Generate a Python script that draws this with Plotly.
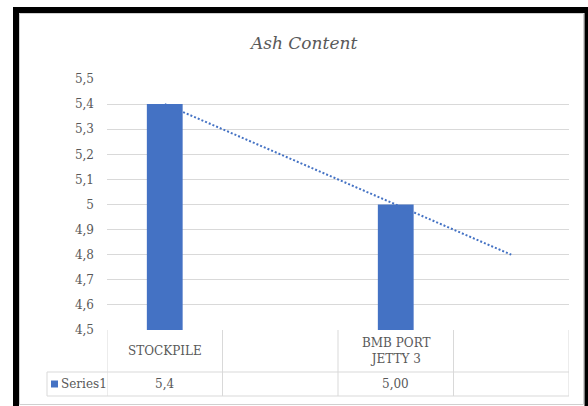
import numpy as np
import plotly.graph_objects as go

# ---- data ----
categories = ["STOCKPILE", "", "BMB PORT<br>JETTY 3", ""]
values = [5.4, None, 5.0, None]
table_values = ["5,4", "", "5,00", ""]
series_name = "Series1"
title_text = "Ash Content"
y_ticks = [4.5, 4.6, 4.7, 4.8, 4.9, 5.0, 5.1, 5.2, 5.3, 5.4, 5.5]
y_tick_labels = ["4,5", "4,6", "4,7", "4,8", "4,9", "5", "5,1", "5,2", "5,3", "5,4", "5,5"]

# ---- layout geometry (pixels) ----
W, H = 588, 406
L, R, T, B = 107, 569, 79, 330
pw, ph = R - L, B - T


def px_x(p):
    return (p - L) / pw


def px_y(p):
    return (B - p) / ph


BLUE = "#4472C4"
GRID = "#D9D9D9"
TXT = "#595959"
FONT = "DejaVu Serif"
FS = 12

idx = list(range(len(categories)))
xs = [i for i, v in zip(idx, values) if v is not None]
ys = [v for v in values if v is not None]
slope, icpt = np.polyfit(xs, ys, 1)
trend_x = [xs[0], idx[-1]]
trend_y = [slope * x + icpt for x in trend_x]

fig = go.Figure()
fig.add_trace(go.Bar(x=idx, y=values, width=0.31, marker_color=BLUE,
                     marker_line_width=0, name=series_name, showlegend=False))
fig.add_trace(go.Scatter(x=trend_x, y=trend_y, mode="lines",
                         line=dict(color=BLUE, width=2, dash="2px,2px"),
                         showlegend=False, hoverinfo="skip"))

shapes = []
ann = []

# table lines
row1_bot = px_y(372)
row2_bot = px_y(396)
col_edges = [i - 0.5 for i in idx] + [idx[-1] + 0.5]
shapes.append(dict(type="line", xref="paper", yref="paper", x0=px_x(47), x1=1, y0=row1_bot, y1=row1_bot,
                   line=dict(color=GRID, width=1)))
shapes.append(dict(type="line", xref="paper", yref="paper", x0=px_x(47), x1=1, y0=row2_bot, y1=row2_bot,
                   line=dict(color=GRID, width=1)))
for e in col_edges:
    shapes.append(dict(type="line", xref="x", yref="paper", x0=e, x1=e, y0=0, y1=row2_bot,
                       line=dict(color=GRID, width=1)))
shapes.append(dict(type="line", xref="paper", yref="paper", x0=px_x(47), x1=px_x(47), y0=row1_bot, y1=row2_bot,
                   line=dict(color=GRID, width=1)))
# legend key
shapes.append(dict(type="rect", xref="paper", yref="paper", x0=px_x(51), x1=px_x(58),
                   y0=px_y(387.5), y1=px_y(380.5), fillcolor=BLUE, line=dict(width=0)))

for i, c, v in zip(idx, categories, table_values):
    if c:
        ann.append(dict(x=i, xref="x", y=(0 + row1_bot) / 2, yref="paper", text=c, showarrow=False,
                        font=dict(family=FONT, size=FS, color=TXT), xanchor="center", yanchor="middle"))
    if v:
        ann.append(dict(x=i, xref="x", y=(row1_bot + row2_bot) / 2, yref="paper", text=v, showarrow=False,
                        font=dict(family=FONT, size=FS, color=TXT), xanchor="center", yanchor="middle"))
ann.append(dict(x=px_x(59), xref="paper", y=(row1_bot + row2_bot) / 2, yref="paper", text=series_name,
                showarrow=False, font=dict(family=FONT, size=FS, color=TXT), xanchor="left", yanchor="middle"))

# title
ann.append(dict(x=px_x(303), xref="paper", y=px_y(43), yref="paper", text="<i>" + title_text + "</i>",
                showarrow=False, font=dict(family=FONT, size=17, color=TXT), xanchor="center", yanchor="middle"))

# frame: gray inner + black outer
shapes.append(dict(type="rect", xref="paper", yref="paper", x0=px_x(19.5), x1=px_x(583.5),
                   y0=px_y(404.5), y1=px_y(13.5), line=dict(color="#D0D0D0", width=1), layer="below"))
shapes.append(dict(type="line", xref="paper", yref="paper", x0=px_x(16), x1=px_x(16), y0=px_y(7), y1=px_y(410),
                   line=dict(color="black", width=6)))
shapes.append(dict(type="line", xref="paper", yref="paper", x0=px_x(13), x1=px_x(590), y0=px_y(10), y1=px_y(10),
                   line=dict(color="black", width=6)))
shapes.append(dict(type="line", xref="paper", yref="paper", x0=px_x(586.5), x1=px_x(586.5), y0=px_y(7), y1=px_y(410),
                   line=dict(color="black", width=4)))

fig.update_layout(
    width=W, height=H,
    margin=dict(l=L, r=W - R, t=T, b=H - B, pad=0),
    paper_bgcolor="white", plot_bgcolor="white",
    showlegend=False,
    shapes=shapes, annotations=ann,
    font=dict(family=FONT, size=FS, color=TXT),
    xaxis=dict(range=[-0.5, len(categories) - 0.5], showticklabels=False, showgrid=False,
               zeroline=False, showline=False, fixedrange=True),
    yaxis=dict(range=[4.5, 5.5], tickvals=y_ticks, ticktext=y_tick_labels, showgrid=True,
               gridcolor=GRID, gridwidth=1, zeroline=False, showline=False,
               ticks="", ticklabelstandoff=12, tickfont=dict(family=FONT, size=FS, color=TXT)),
)

fig.write_html("out.html")
